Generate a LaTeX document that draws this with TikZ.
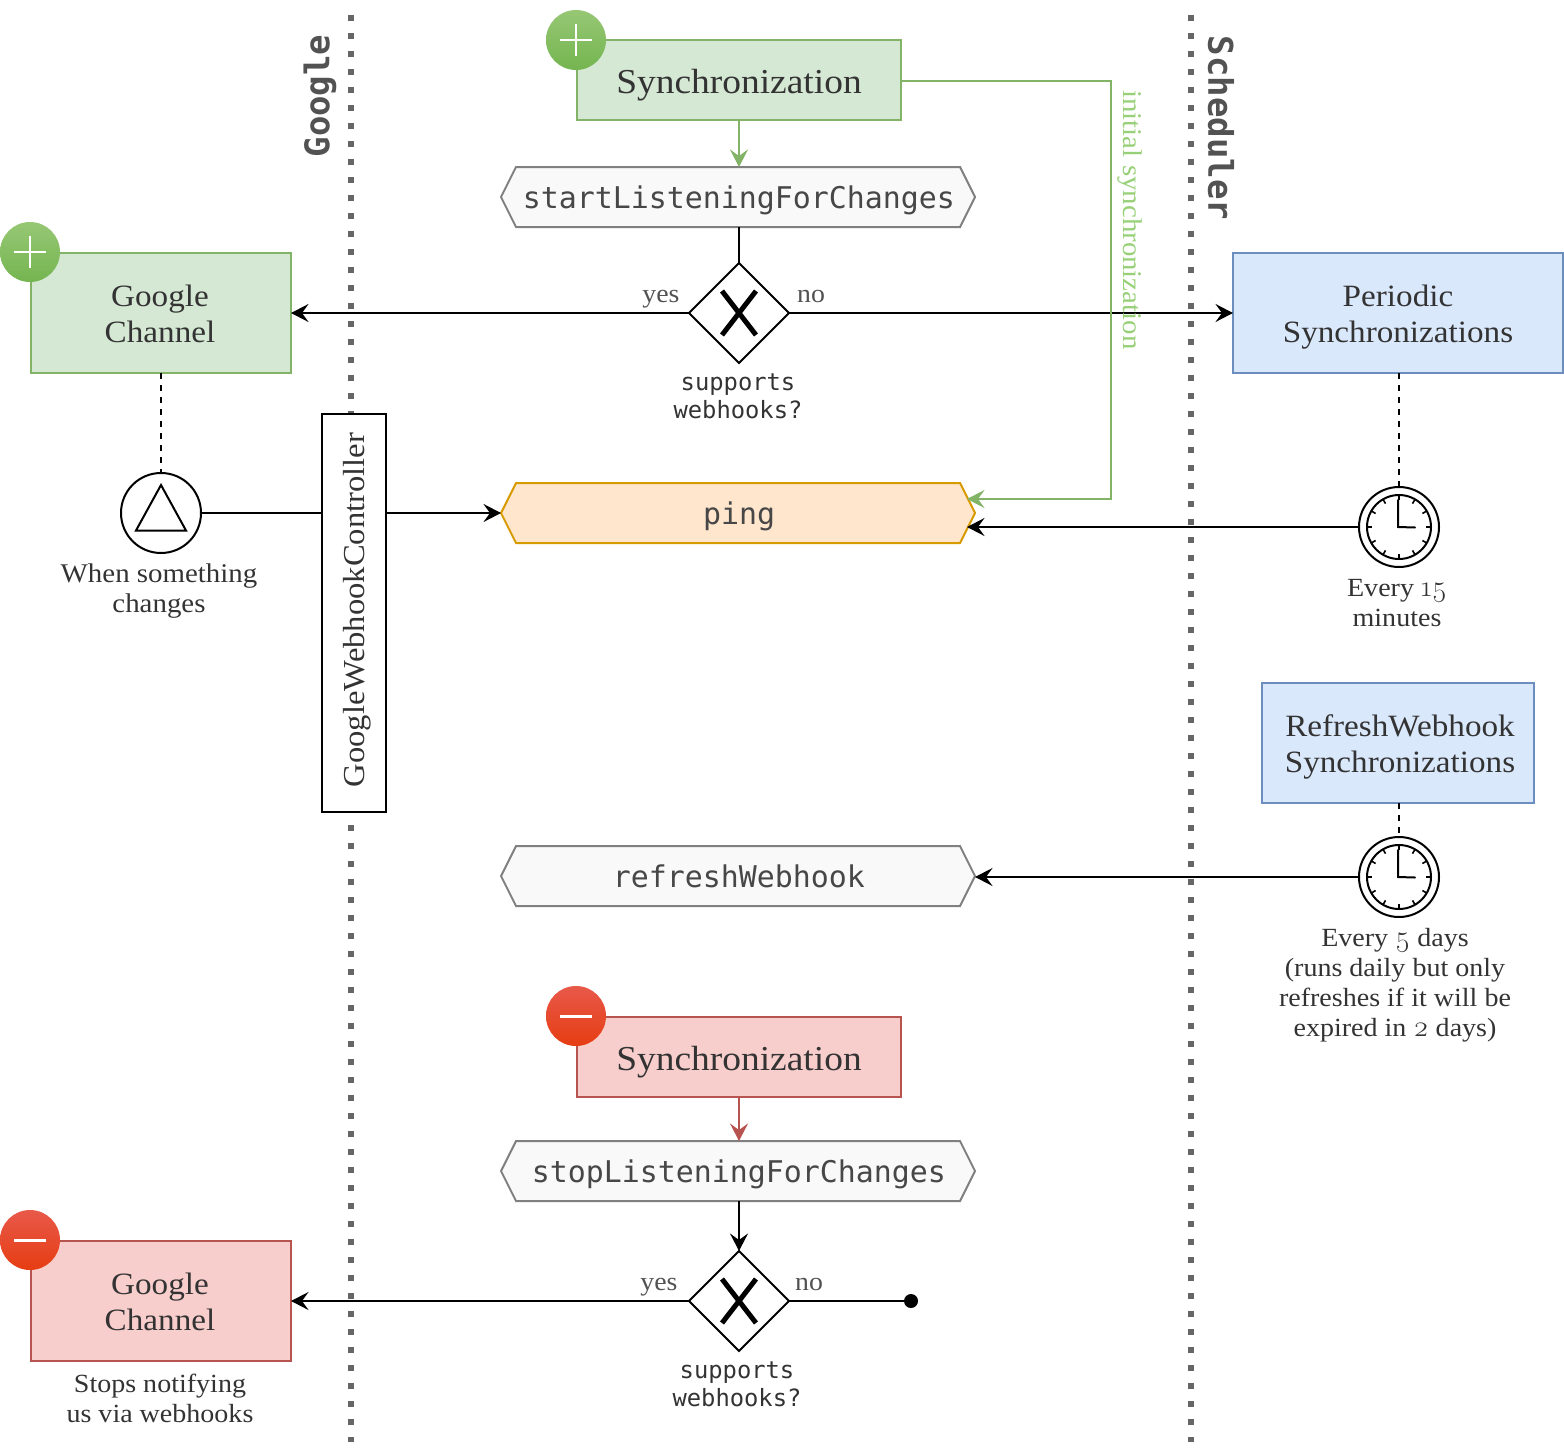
\documentclass[tikz,border=0pt]{standalone}
\usepackage{fontspec}
\setmainfont{Liberation Serif}[FakeStretch=1.07]
\newfontfamily\monof{DejaVu Sans Mono}
\newfontfamily\onum[Numbers=OldStyle,Scale=1.12]{Latin Modern Roman}
\usetikzlibrary{arrows.meta,shapes.geometric,calc}
\definecolor{txt}{HTML}{333333}
\definecolor{gfill}{HTML}{D5E8D4}\definecolor{gline}{HTML}{82B366}
\definecolor{rfill}{HTML}{F8CECC}\definecolor{rline}{HTML}{B85450}
\definecolor{bfill}{HTML}{DAE8FC}\definecolor{bline}{HTML}{6C8EBF}
\definecolor{ofill}{HTML}{FFE6CC}\definecolor{oline}{HTML}{D79B00}
\definecolor{hfill}{HTML}{F9F9F9}\definecolor{hline}{HTML}{808080}
\definecolor{lane}{HTML}{666666}
\definecolor{gtop}{HTML}{97C774}\definecolor{gbot}{HTML}{74B550}
\definecolor{rtop}{HTML}{E8594A}\definecolor{rbot}{HTML}{E63D12}
\definecolor{inig}{HTML}{97D077}
\tikzset{
  x=1pt,y=-1pt,
  every node/.style={inner sep=0pt,outer sep=0pt,text=txt},
  line/.style={line width=2pt,draw=black},
  arr/.style={line,-{Stealth[length=17.5pt,width=18pt,inset=6.5pt]}},
  garr/.style={arr,draw=gline},
  rarr/.style={arr,draw=rline},
  dashline/.style={line,dash pattern=on 6pt off 6pt},
  lanel/.style={line width=6pt,draw=lane,dash pattern=on 6pt off 12pt},
  boxbase/.style={rectangle,line width=2pt,align=center,font=\fontsize{31}{36}\selectfont},
  gbox/.style={boxbase,draw=gline,fill=gfill},
  rbox/.style={boxbase,draw=rline,fill=rfill},
  bbox/.style={boxbase,draw=bline,fill=bfill},
  syncfont/.style={font=\fontsize{35}{36}\selectfont},
  badge/.style={circle,minimum size=60pt},
  gbadge/.style={badge,top color=gtop,bottom color=gbot},
  rbadge/.style={badge,top color=rtop,bottom color=rbot},
  sym/.style={draw=white,line width=2pt},
  decis/.style={diamond,draw=black,fill=white,line width=2pt,minimum width=100pt,minimum height=100pt,aspect=1},
  xmark/.style={line width=5pt,draw=black},
  caption/.style={align=center,font=\fontsize{27}{30}\selectfont},
  smallcap/.style={align=center,font=\fontsize{26.2}{30}\selectfont},
  yn/.style={text=txt!85,font=\fontsize{26}{30}\selectfont,text height=21pt,text depth=5pt},
  monolabel/.style={align=center,font=\monof\fontsize{23.8}{28}\selectfont},
  hextext/.style={text=txt!90,font=\monof\fontsize{29.9}{36}\selectfont,minimum width=474pt,minimum height=60pt,text height=28pt,text depth=6pt},
  lanetitle/.style={text=lane!80!black,font=\monof\bfseries\fontsize{34}{36}\selectfont},
  trig/.style={circle,draw=black,fill=white,line width=2pt,minimum size=80pt},
}
\newcommand{\hexnode}[6]{% name, cx, cy, fill, line, text
  \draw[line width=2pt,draw=#5,fill=#4,line join=miter]
    (#2-237,#3) -- (#2-222,#3-30) -- (#2+222,#3-30) -- (#2+237,#3)
    -- (#2+222,#3+30) -- (#2-222,#3+30) -- cycle;
  \node[hextext] (#1) at (#2+1,#3) {#6};
}
\newcommand{\clocksym}[3]{% name cx cy
  \node[trig] (#1) at (#2,#3) {};
  \draw[line width=2pt] (#2,#3) circle[radius=32];
  \foreach \a in {0,30,...,330}{
    \draw[line width=1.6pt] ($(#2,#3)+(\a:32)$) -- ($(#2,#3)+(\a:27)$);
  }
  \draw[line width=2pt,line cap=round] (#2-1,#3-27) -- (#2-1,#3) -- (#2+16,#3+0.5);
}
\newcommand{\xsym}[2]{%
  \draw[xmark] (#1-17,#2-22) -- (#1+17,#2+22);
  \draw[xmark] (#1+17,#2-22) -- (#1-17,#2+22);
}
\newcommand{\twol}[2]{\rule{0pt}{29pt}#1\\\rule[-7pt]{0pt}{7pt}#2}
\newcommand{\onel}[1]{\rule{0pt}{35pt}\rule[-7pt]{0pt}{7pt}#1}
\begin{document}
\begin{tikzpicture}
\useasboundingbox (0,0) rectangle (1564,1448);
% lanes
\coordinate (l1a) at (351,15); \coordinate (l1b) at (351,1442);
\coordinate (l2a) at (1191,15); \coordinate (l2b) at (1191,1442);
\draw[lanel] (l1a) -- (l1b);
\draw[lanel] (l2a) -- (l2b);
\node[lanetitle,rotate=90] (tgoogle) at (320,96) {Google};
\node[lanetitle,rotate=-90] (tsched) at (1221,128) {Scheduler};

% top synchronization
\node[gbox,syncfont,minimum width=324pt,minimum height=80pt] (sync) at (739,80) {\onel{Synchronization}};
\node[gbadge] (badge1) at (576,40) {};
\draw[sym] (576,24) -- (576,56) (560,40) -- (592,40);
\hexnode{start}{738}{197}{hfill}{hline}{startListeningForChanges}
\node[decis] (dec1) at (739,313) {};
\xsym{739}{313}
\node[monolabel] (ql1) at (738,396.5) {supports\\webhooks?};
\node[yn] (yes1) at (661,294) {yes};
\node[yn] (no1) at (811,294) {no};

\node[gbox,minimum width=260pt,minimum height=120pt] (chan1) at (161,313) {\twol{Google\hspace*{2pt}}{Channel\hspace*{2pt}}};
\node[gbadge] (badge2) at (30,252) {};
\draw[sym] (30,236) -- (30,268) (14,252) -- (46,252);
\node[bbox,minimum width=330pt,minimum height=120pt] (per) at (1398,313) {\twol{Periodic}{Synchronizations}};

% ping
\hexnode{ping}{738}{513}{ofill}{oline}{ping}
\coordinate (pingA) at (967,499);
\coordinate (pingB) at (967,527);
\coordinate (gc1) at (1111,81);
\coordinate (gc2) at (1111,499);

\node[trig] (wh) at (161,513) {};
\draw[line width=2pt,line join=miter] (161,485) -- (186,530.5) -- (136,530.5) -- cycle;
\node[caption] (whcap) at (159,591) {When something\\changes};

\node[boxbase,draw=black,fill=white,minimum width=64pt,minimum height=398pt] (ctrl) at (354,613) {};
\node[rotate=90,font=\fontsize{30.5}{36}\selectfont] (ctrlt) at (357,610) {GoogleWebhookController};

\clocksym{clk1}{1399}{527}
\node[smallcap] (c1cap) at (1397,603) {Every {\onum 15}\\minutes};

\node[bbox,minimum width=272pt,minimum height=120pt] (ref) at (1398,743) {\twol{\hspace*{4pt}RefreshWebhook}{\hspace*{4pt}Synchronizations}};
\clocksym{clk2}{1399}{877}
\node[smallcap] (c2cap) at (1395,985) {Every {\onum 5} days\\(runs daily but only\\refreshes if it will be\\expired in {\onum 2} days)};
\hexnode{rw}{738}{876}{hfill}{hline}{refreshWebhook}

% bottom
\node[rbox,syncfont,minimum width=324pt,minimum height=80pt] (sync2) at (739,1057) {\onel{Synchronization}};
\node[rbadge] (badge3) at (576,1016) {};
\draw[sym,line width=3pt] (560,1016) -- (592,1016);
\hexnode{stop}{738}{1171}{hfill}{hline}{stopListeningForChanges}
\node[decis] (dec2) at (739,1301) {};
\xsym{739}{1301}
\node[monolabel] (ql2) at (737,1384.5) {supports\\webhooks?};
\node[yn] (yes2) at (659,1282) {yes};
\node[yn] (no2) at (809,1282) {no};
\node[rbox,minimum width=260pt,minimum height=120pt] (chan2) at (161,1301) {\twol{Google\hspace*{2pt}}{Channel\hspace*{2pt}}};
\node[rbadge] (badge4) at (30,1240) {};
\draw[sym,line width=3pt] (14,1240) -- (46,1240);
\node[smallcap] (c3cap) at (160,1398) {Stops notifying\\us via webhooks};
\node[circle,fill=black,minimum size=14pt] (enddot) at (911,1301) {};

% connectors
\draw[garr] (sync.south) -- (sync.south |- start.north);
\draw[line] (dec1.north |- start.south) -- (dec1.north);
\draw[arr] (dec1.west) -- (chan1.east);
\draw[arr] (dec1.east) -- (per.west);
\draw[dashline] (chan1.south) -- (wh.north);
\draw[dashline] (per.south -| clk1.north) -- (clk1.north);
\draw[dashline] (ref.south -| clk2.north) -- (clk2.north);
\draw[line] (wh.east) -- (wh.east -| ctrl.west);
\draw[arr] (wh.east -| ctrl.east) -- (ping.west -| 501,0);
\draw[arr] (clk1.west) -- (pingB);
\draw[arr] (clk2.west) -- (clk2.west -| 975,0);
\draw[garr,line join=miter] (sync.east |- gc1) -- (gc1) -- (gc2) -- (pingA);
\node[rotate=-90,text=inig,font=\fontsize{27}{30}\selectfont] (inisync) at (1130,220) {initial synchronization};
\draw[rarr] (sync2.south) -- (sync2.south |- stop.north);
\draw[arr] (dec2.north |- stop.south) -- (dec2.north);
\draw[arr] (dec2.west) -- (chan2.east);
\draw[line] (dec2.east) -- (enddot);
\end{tikzpicture}
\end{document}
